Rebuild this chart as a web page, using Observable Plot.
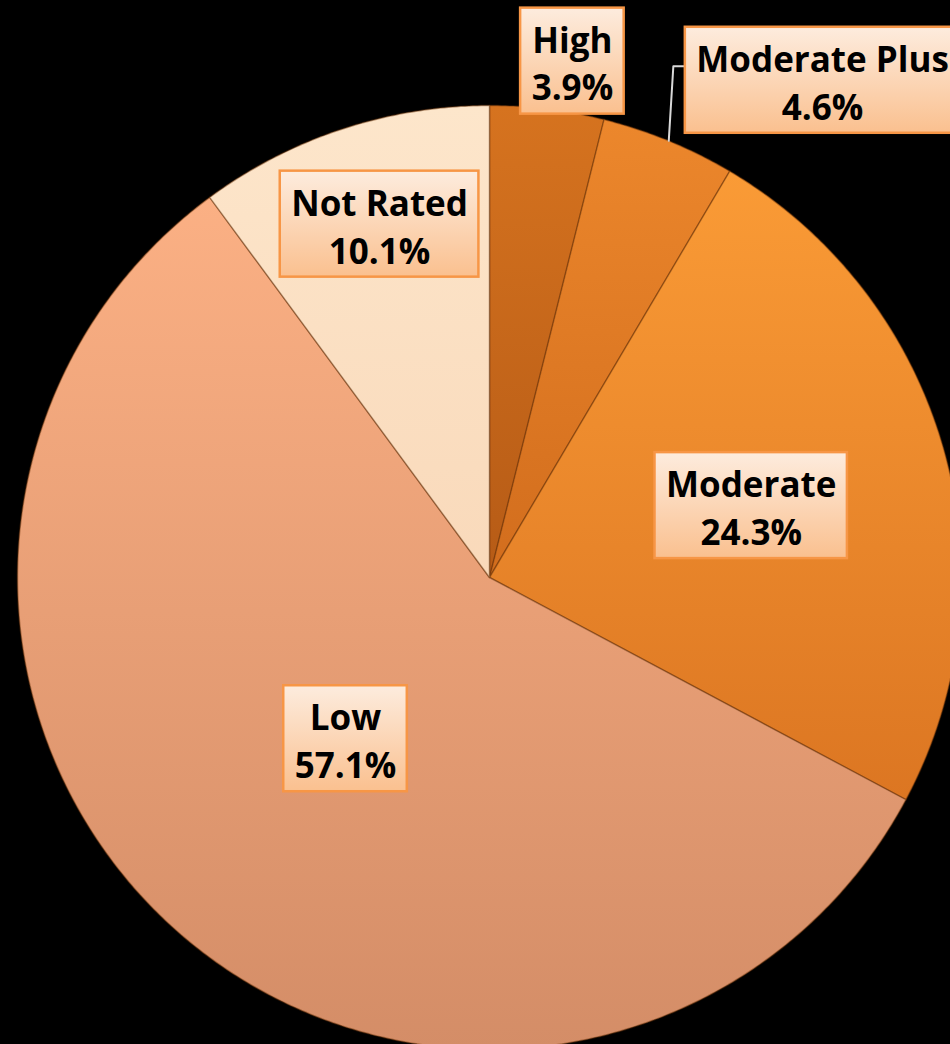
<!DOCTYPE html>
<html><head><meta charset="utf-8">
<script src="https://cdn.jsdelivr.net/npm/d3@7"></script>
<script src="https://cdn.jsdelivr.net/npm/@observablehq/plot@0.6"></script>
<style>html,body{margin:0;padding:0;background:#000;overflow:hidden}</style>
</head><body><div id="chart"></div>
<script>
// ---- data ----
const categories = ["High", "Moderate Plus", "Moderate", "Low", "Not Rated"];
const shares = [3.9, 4.6, 24.3, 57.1, 10.1];

// ---- styles / layout ----
const sliceTop = ["#D6731F", "#EC872C", "#FA9B36", "#FBB084", "#FDE6CB"];
const sliceBottom = ["#B65B16", "#D26D1D", "#DC7622", "#D48D67", "#F9D9BA"];
const labelRadius = [1.108, 1.268, 0.575, 0.458, 0.784];
const labelNudge = [2.1, 11.5, 0.3, 0.9, 0.9];
const hasLeader = [false, true, false, false, false];

const W = 950, H = 1044, cx = 489, cy = 577, R = 472;
const FONT_SIZE = 35, LINE_PX = 48, BOX_H = 106, BOX_PAD = 11;

const arcs = d3.pie().sort(null).value(d => d)(shares);

// slice outlines in unit-radius coordinates (y up)
const slices = arcs.map((a, i) => {
  const pts = [{x: 0, y: 0}];
  const n = Math.max(4, Math.ceil((a.endAngle - a.startAngle) / (Math.PI / 360)));
  for (let j = 0; j <= n; j++) {
    const t = a.startAngle + (a.endAngle - a.startAngle) * j / n;
    pts.push({x: Math.sin(t), y: Math.cos(t)});
  }
  return pts;
});

// text measurement for label boxes
const ctx = document.createElement("canvas").getContext("2d");
ctx.font = `bold ${FONT_SIZE}px "Open Sans"`;

const labels = arcs.map((a, i) => {
  const mid = (a.startAngle + a.endAngle) / 2 + labelNudge[i] * Math.PI / 180;
  const x = labelRadius[i] * Math.sin(mid), y = labelRadius[i] * Math.cos(mid);
  const pct = shares[i].toFixed(1) + "%";
  const w = Math.max(ctx.measureText(categories[i]).width, ctx.measureText(pct).width) + 2 * BOX_PAD;
  return {
    i, x, y, text: categories[i] + "\n" + pct,
    x1: x - w / 2 / R, x2: x + w / 2 / R, y1: y - BOX_H / 2 / R, y2: y + BOX_H / 2 / R
  };
});

// leader lines
const leaderPts = [];
labels.forEach((l, i) => {
  if (!hasLeader[i]) return;
  const a = arcs[i], mid = (a.startAngle + a.endAngle) / 2;
  const px = Math.sin(mid), py = Math.cos(mid);
  const yj = l.y + 14 / R;
  leaderPts.push({k: i, x: px, y: py});
  leaderPts.push({k: i, x: l.x1 - 12 / R, y: yj});
  leaderPts.push({k: i, x: l.x1, y: yj});
});

const svg = Plot.plot({
  width: W, height: H, margin: 0,
  x: {domain: [-cx / R, (W - cx) / R], axis: null},
  y: {domain: [-(H - cy) / R, cy / R], axis: null},
  style: {background: "black"},
  marks: [
    ...slices.map((pts, i) => Plot.line(pts, {x: "x", y: "y", fill: `url(#slice${i})`, stroke: "#6b3208", strokeOpacity: 0.45, strokeWidth: 1.5, curve: "linear-closed"})),
    Plot.line(leaderPts, {x: "x", y: "y", z: "k", stroke: "#D9D9D9", strokeWidth: 2}),
    Plot.rect(labels, {x1: "x1", x2: "x2", y1: "y1", y2: "y2", fill: "url(#boxGrad)", stroke: "#F79646", strokeWidth: 2.5, ariaLabel: "label-box"}),
    Plot.text(labels, {x: "x", y: "y", text: "text", fontSize: FONT_SIZE, fontWeight: "bold", fontFamily: "Open Sans", lineHeight: LINE_PX / FONT_SIZE, fill: "black"})
  ]
});

const defs = d3.select(svg).insert("defs", ":first-child");
sliceTop.forEach((c, i) => {
  const g = defs.append("linearGradient").attr("id", `slice${i}`).attr("x1", 0).attr("y1", 0).attr("x2", 0).attr("y2", 1);
  g.append("stop").attr("offset", "0%").attr("stop-color", c);
  g.append("stop").attr("offset", "100%").attr("stop-color", sliceBottom[i]);
});
const bg = defs.append("linearGradient").attr("id", "boxGrad").attr("x1", 0).attr("y1", 0).attr("x2", 0).attr("y2", 1);
bg.append("stop").attr("offset", "0%").attr("stop-color", "#FDECDE");
bg.append("stop").attr("offset", "100%").attr("stop-color", "#FAC08F");
const sh = defs.append("filter").attr("id", "shadow").attr("x", "-20%").attr("y", "-20%").attr("width", "140%").attr("height", "150%");
sh.append("feDropShadow").attr("dx", 1).attr("dy", 3).attr("stdDeviation", 2.5).attr("flood-color", "#000").attr("flood-opacity", 0.55);
d3.select(svg).selectAll('[aria-label="label-box"]').attr("filter", "url(#shadow)");

document.getElementById("chart").appendChild(svg);
</script>
</body></html>
